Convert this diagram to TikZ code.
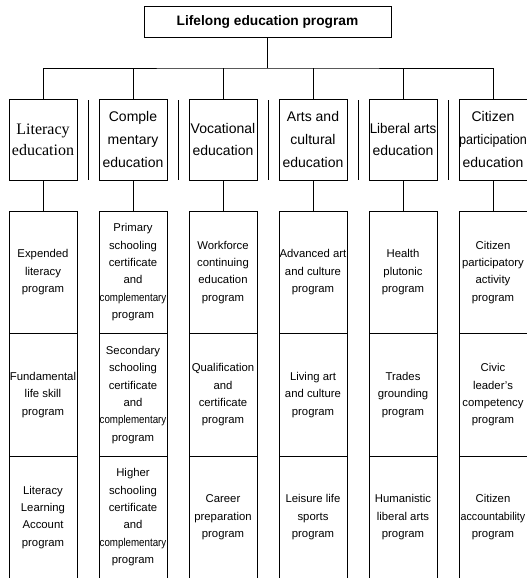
\documentclass[tikz,border=0pt]{standalone}
\usepackage{fontspec}
\setmainfont{Liberation Sans}
\newfontfamily\timesfont{Liberation Serif}
\usetikzlibrary{positioning}

\begin{document}
\begin{tikzpicture}[
        x=0.75pt, y=-0.75pt,
        node distance=16.5pt,
        headbox/.style={rectangle, minimum width=185.25pt, minimum height=23.25pt, text centered, draw=black, line width=0.7pt, outer sep=0pt, font=\bfseries\fontsize{10.3}{12}\selectfont},
        category/.style={rectangle, minimum width=51pt, minimum height=60.75pt, inner sep=0pt, align=center, draw=black, line width=0.7pt, outer sep=0pt, font=\fontsize{10.5}{17}\selectfont},
        program/.style={rectangle, minimum width=51pt, minimum height=91.875pt, inner sep=0pt, align=center, draw=black, line width=0.7pt, outer sep=0pt, font=\fontsize{8.5}{13}\selectfont},
        link/.style={line width=0.7pt}
    ]
        \path[use as bounding box, clip] (0,0) rectangle (527,578);

        % ===== top =====
        \node (lifelong) [headbox] at (267.5,21.5) {Lifelong education program};

        % ===== categories =====
        \node (literacy) [category, font=\timesfont\fontsize{12}{15.75}\selectfont] at (43,139.5) {Literacy\\education};
        \node (complement) [category, right=of literacy] {Comple\\mentary\\education};
        \node (vocational) [category, right=of complement] {Vocational\\education};
        \node (arts) [category, right=of vocational] {Arts and\\cultural\\education};
        \node (liberal) [category, right=of arts] {\scalebox{0.96}[1]{Liberal arts}\\education};
        \node (citizen) [category, right=of liberal] {Citizen\\\scalebox{0.9}[1]{participation}\\education};

        % ===== programs =====
        \node (litA) [program, below=23.25pt of literacy] {Expended\\literacy\\program};
        \node (litB) [program, below=0pt of litA] {Fundamental\\life skill\\program};
        \node (litC) [program, below=0pt of litB] {Literacy\\Learning\\Account\\program};

        \node (comA) [program, below=23.25pt of complement] {Primary\\schooling\\certificate\\and\\\scalebox{0.86}[1]{complementary}\\program};
        \node (comB) [program, below=0pt of comA] {Secondary\\schooling\\certificate\\and\\\scalebox{0.86}[1]{complementary}\\program};
        \node (comC) [program, below=0pt of comB] {Higher\\schooling\\certificate\\and\\\scalebox{0.86}[1]{complementary}\\program};

        \node (vocA) [program, below=23.25pt of vocational] {Workforce\\continuing\\education\\program};
        \node (vocB) [program, below=0pt of vocA] {Qualification\\and\\certificate\\program};
        \node (vocC) [program, below=0pt of vocB] {Career\\preparation\\program};

        \node (artA) [program, below=23.25pt of arts] {Advanced art\\and culture\\program};
        \node (artB) [program, below=0pt of artA] {Living art\\and culture\\program};
        \node (artC) [program, below=0pt of artB] {Leisure life\\sports\\program};

        \node (libA) [program, below=23.25pt of liberal] {Health\\plutonic\\program};
        \node (libB) [program, below=0pt of libA] {Trades\\grounding\\program};
        \node (libC) [program, below=0pt of libB] {Humanistic\\liberal arts\\program};

        \node (citA) [program, below=23.25pt of citizen] {Citizen\\participatory\\activity\\program};
        \node (citB) [program, below=0pt of citA] {Civic\\leader's\\competency\\program};
        \node (citC) [program, below=0pt of citB] {Citizen\\\scalebox{0.94}[1]{accountability}\\program};

        % ===== tree lines =====
        \draw [link] (lifelong.south) -- ++(0,31) coordinate (bus);
        \draw [link] (literacy.north) |- (bus) -| (citizen.north);
        \draw [link] (complement.north) -- (complement.north |- bus);
        \draw [link] (vocational.north) -- (vocational.north |- bus);
        \draw [link] (arts.north) -- (arts.north |- bus);
        \draw [link] (liberal.north) -- (liberal.north |- bus);

        % separators between categories
        \draw [link] ([xshift=8.25pt,yshift=-0.75pt]literacy.north east) -- ([xshift=8.25pt]literacy.south east);
        \draw [link] ([xshift=8.25pt,yshift=-0.75pt]complement.north east) -- ([xshift=8.25pt]complement.south east);
        \draw [link] ([xshift=8.25pt,yshift=-0.75pt]vocational.north east) -- ([xshift=8.25pt]vocational.south east);
        \draw [link] ([xshift=8.25pt,yshift=-0.75pt]arts.north east) -- ([xshift=8.25pt]arts.south east);
        \draw [link] ([xshift=8.25pt,yshift=-0.75pt]liberal.north east) -- ([xshift=8.25pt]liberal.south east);

        % categories to programs
        \draw [link] (literacy) -- (litA);
        \draw [link] (complement) -- (comA);
        \draw [link] (vocational) -- (vocA);
        \draw [link] (arts) -- (artA);
        \draw [link] (liberal) -- (libA);
        \draw [link] (citizen) -- (citA);

    \end{tikzpicture}
\end{document}
